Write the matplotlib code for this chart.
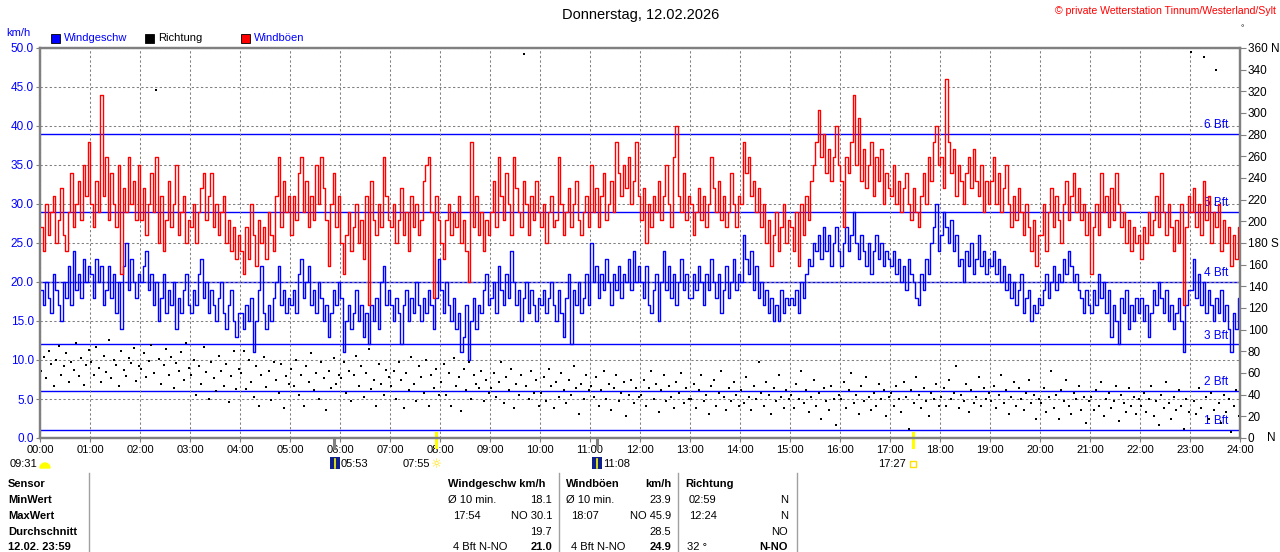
import numpy as np
import matplotlib.pyplot as plt
from matplotlib.patches import Rectangle, Wedge
from matplotlib.lines import Line2D

plt.rcParams['font.family'] = ['Liberation Sans', 'DejaVu Sans']

boeen = [
    27, 24, 30, 26, 29, 31, 25, 28, 32, 26, 24, 29, 34, 27, 30, 33, 28, 35, 31, 38,
    30, 27, 33, 29, 44, 31, 36, 28, 34, 30, 27, 35, 21, 32, 29, 36, 30, 33, 28, 35,
    28, 32, 26, 30, 34, 29, 36, 25, 31, 24, 28, 33, 27, 30, 35, 26, 29, 31, 25, 28,
    27, 30, 25, 29, 32, 34, 28, 31, 34, 27, 30, 26, 29, 31, 25, 28, 24, 27, 23, 26,
    24, 21, 27, 23, 30, 26, 22, 28, 25, 27, 23, 29, 26, 24, 31, 36, 27, 33, 29, 31,
    26, 31, 28, 34, 36, 29, 33, 27, 31, 28, 35, 30, 36, 32, 28, 22, 30, 34, 27, 31,
    25, 21, 26, 29, 24, 27, 30, 25, 28, 23, 31, 17, 33, 28, 26, 30, 27, 36, 31, 28,
    27, 30, 25, 28, 32, 26, 29, 24, 31, 27, 30, 26, 28, 33, 35, 36, 29, 18, 31, 28,
    25, 23, 28, 30, 26, 29, 27, 31, 25, 28, 24, 20, 38, 27, 31, 26, 29, 24, 28, 26,
    29, 33, 27, 36, 31, 28, 34, 30, 26, 36, 32, 29, 27, 33, 30, 26, 31, 28, 33, 29,
    27, 30, 25, 29, 31, 27, 28, 36, 30, 26, 29, 32, 27, 30, 33, 28, 26, 29, 31, 27,
    35, 29, 32, 27, 31, 34, 28, 30, 33, 29, 38, 34, 31, 35, 32, 36, 30, 33, 38, 31,
    28, 32, 25, 30, 27, 31, 29, 33, 28, 31, 35, 30, 27, 36, 40, 31, 29, 34, 28, 31,
    30, 26, 29, 32, 28, 31, 27, 30, 36, 32, 29, 33, 28, 31, 27, 29, 34, 30, 27, 31,
    30, 38, 34, 36, 31, 33, 29, 32, 27, 30, 25, 28, 22, 26, 29, 24, 27, 30, 25, 28,
    27, 24, 29, 22, 30, 26, 31, 28, 33, 35, 38, 42, 36, 39, 34, 37, 33, 36, 40, 35,
    33, 27, 36, 34, 38, 44, 35, 41, 33, 37, 32, 35, 38, 31, 36, 33, 37, 30, 34, 32,
    31, 35, 30, 33, 29, 32, 34, 30, 28, 32, 29, 27, 31, 34, 30, 36, 33, 38, 40, 35,
    36, 32, 46, 38, 34, 37, 31, 35, 33, 30, 34, 36, 32, 37, 33, 31, 35, 29, 33, 30,
    33, 36, 30, 34, 29, 32, 35, 30, 27, 31, 28, 32, 29, 26, 30, 27, 24, 28, 22, 26,
    26, 30, 24, 29, 32, 27, 31, 28, 25, 30, 33, 28, 31, 34, 29, 32, 28, 30, 26, 29,
    21, 27, 30, 26, 34, 29, 31, 27, 32, 28, 34, 30, 27, 29, 25, 28, 24, 27, 25, 26,
    23, 27, 25, 29, 26, 28, 31, 27, 34, 29, 26, 30, 27, 24, 28, 25, 30, 17, 27, 31,
    29, 32, 27, 30, 26, 33, 28, 31, 25, 29, 27, 30, 24, 28, 25, 27, 22, 26, 23, 27,
]

geschw = [
    19, 17, 20, 18, 16, 21, 19, 17, 15, 20, 18, 22, 17, 24, 19, 21, 18, 23, 20, 22,
    21, 18, 23, 20, 22, 17, 19, 22, 18, 21, 16, 20, 14, 22, 25, 19, 23, 20, 18, 21,
    20, 22, 24, 19, 21, 17, 20, 15, 18, 21, 16, 19, 17, 20, 14, 18, 16, 19, 21, 17,
    16, 19, 17, 21, 23, 18, 20, 16, 19, 17, 15, 18, 20, 16, 14, 17, 19, 15, 13, 16,
    16, 14, 17, 15, 18, 11, 15, 19, 22, 16, 14, 17, 15, 18, 20, 22, 17, 19, 16, 18,
    17, 19, 16, 21, 23, 18, 20, 22, 17, 19, 16, 20, 18, 15, 17, 13, 16, 19, 17, 20,
    18, 11, 15, 17, 14, 16, 19, 15, 17, 13, 16, 12, 17, 15, 18, 14, 20, 22, 17, 19,
    17, 15, 18, 16, 12, 17, 19, 15, 18, 16, 20, 17, 15, 18, 16, 19, 17, 14, 18, 23,
    19, 16, 20, 17, 15, 18, 14, 16, 11, 13, 17, 10, 15, 18, 14, 17, 16, 19, 21, 17,
    18, 20, 16, 22, 19, 17, 21, 18, 24, 20, 17, 19, 15, 18, 20, 16, 19, 17, 15, 18,
    17, 19, 16, 18, 20, 17, 15, 19, 16, 13, 18, 21, 12, 19, 17, 20, 16, 18, 21, 17,
    25, 20, 22, 18, 21, 19, 23, 20, 17, 21, 19, 22, 18, 21, 20, 23, 19, 24, 20, 22,
    20, 18, 22, 17, 16, 19, 21, 15, 20, 24, 19, 22, 18, 21, 17, 20, 23, 19, 21, 18,
    18, 21, 19, 22, 20, 17, 21, 19, 23, 20, 18, 21, 16, 19, 22, 18, 20, 23, 19, 21,
    20, 26, 23, 21, 24, 19, 22, 18, 20, 17, 19, 16, 18, 15, 17, 15, 19, 16, 18, 17,
    18, 17, 19, 16, 20, 18, 21, 23, 22, 25, 24, 26, 23, 27, 24, 26, 22, 25, 27, 24,
    22, 25, 27, 24, 26, 29, 25, 23, 26, 24, 22, 25, 21, 24, 26, 23, 25, 22, 24, 23,
    22, 24, 21, 23, 20, 22, 19, 23, 21, 20, 18, 17, 21, 19, 23, 21, 25, 27, 30, 24,
    26, 29, 27, 25, 28, 24, 26, 22, 23, 20, 24, 22, 25, 21, 23, 26, 22, 24, 21, 23,
    22, 24, 21, 23, 20, 22, 19, 21, 18, 20, 17, 19, 21, 16, 18, 19, 15, 17, 16, 18,
    17, 19, 21, 18, 20, 22, 19, 21, 20, 23, 21, 24, 22, 20, 21, 19, 18, 16, 19, 17,
    16, 19, 17, 21, 18, 20, 16, 19, 13, 17, 15, 12, 18, 16, 19, 14, 17, 15, 18, 16,
    18, 15, 17, 13, 16, 19, 17, 20, 18, 16, 19, 15, 17, 14, 16, 18, 15, 11, 17, 19,
    19, 23, 18, 21, 17, 20, 16, 19, 17, 15, 18, 16, 19, 15, 17, 14, 11, 16, 14, 18,
]

richtung = [
    62, 75, 55, 80, 68, 48, 72, 85, 58, 66, 78, 52, 70, 63, 88, 57, 74, 49, 67, 81,
    70, 58, 84, 65, 52, 76, 61, 90, 55, 72, 67, 48, 80, 63, 57, 74, 69, 83, 53, 66,
    64, 78, 56, 71, 86, 60, 321, 73, 50, 67, 82, 58, 75, 46, 69, 62, 79, 54, 88, 65,
    58, 72, 40, 66, 50, 84, 61, 36, 70, 55, 43, 76, 62, 48, 68, 33, 57, 80, 45, 64,
    60, 80, 45, 72, 52, 38, 66, 30, 58, 75, 47, 62, 35, 70, 54, 42, 68, 28, 57, 50,
    64, 48, 72, 40, 58, 30, 66, 52, 78, 44, 60, 36, 70, 55, 26, 62, 46, 74, 50, 58,
    55, 70, 42, 62, 34, 58, 76, 48, 66, 38, 60, 82, 45, 54, 30, 68, 50, 40, 63, 56,
    48, 62, 36, 70, 54, 28, 60, 44, 75, 50, 34, 66, 56, 42, 72, 30, 58, 46, 64, 40,
    52, 68, 40, 60, 30, 74, 48, 56, 25, 64, 44, 70, 36, 58, 50, 46, 62, 34, 54, 42,
    46, 60, 38, 52, 70, 32, 56, 44, 64, 28, 50, 40, 58, 354, 48, 36, 62, 42, 54, 30,
    42, 56, 34, 64, 48, 28, 52, 38, 60, 44, 32, 54, 40, 66, 46, 22, 50, 36, 58, 44,
    48, 38, 56, 30, 44, 62, 36, 50, 26, 46, 58, 34, 42, 52, 20, 40, 54, 32, 46, 38,
    40, 54, 30, 46, 62, 36, 50, 24, 44, 58, 34, 48, 38, 28, 52, 42, 60, 32, 46, 36,
    36, 50, 28, 44, 58, 34, 40, 22, 48, 54, 30, 42, 62, 38, 26, 46, 34, 52, 40, 30,
    44, 32, 56, 38, 26, 48, 36, 70, 42, 30, 52, 40, 22, 46, 34, 58, 38, 28, 44, 36,
    40, 28, 50, 36, 62, 32, 44, 24, 38, 54, 30, 42, 18, 46, 34, 26, 48, 36, 12, 40,
    36, 52, 28, 44, 60, 32, 40, 22, 48, 34, 56, 38, 26, 42, 30, 50, 36, 44, 20, 38,
    42, 30, 48, 36, 24, 52, 38, 8, 44, 32, 56, 40, 28, 46, 34, 20, 42, 36, 50, 30,
    38, 46, 30, 54, 36, 42, 66, 28, 40, 34, 50, 24, 44, 32, 38, 56, 30, 46, 36, 42,
    34, 48, 28, 40, 58, 32, 44, 22, 38, 52, 30, 46, 36, 26, 42, 54, 32, 40, 18, 36,
    32, 46, 24, 38, 62, 28, 40, 18, 44, 34, 54, 30, 22, 42, 36, 48, 26, 38, 14, 34,
    38, 26, 44, 30, 52, 20, 36, 42, 28, 34, 48, 16, 40, 32, 24, 46, 30, 38, 22, 36,
    30, 42, 24, 36, 48, 20, 34, 12, 40, 28, 52, 32, 18, 38, 26, 44, 30, 8, 36, 24,
    356, 34, 22, 46, 28, 352, 38, 18, 42, 26, 340, 32, 14, 40, 24, 36, 6, 30, 44, 20,
]

bft_grenzen = [1, 6, 12, 20, 29, 39]
bft_namen = ["1 Bft", "2 Bft", "3 Bft", "4 Bft", "5 Bft", "6 Bft"]
stunden = ["%02d:00" % h for h in range(25)]

# Sonne / Mond (Minuten des Tages)
mond_auf = [353, 668]
sonne = [475, 1047]

W, H = 1280, 552
BLAU = "#0000ff"
GRAU = "#808080"


def fx(x):
    return x / W


def fy(y):
    return 1 - y / H


def ftext(x, y, s, **kw):
    kw.setdefault("va", "center")
    kw.setdefault("fontsize", 8)
    fig.text(fx(x), fy(y), s, **kw)


fig = plt.figure(figsize=(12.8, 5.52), dpi=100)
ax = fig.add_axes([fx(40), fy(438), 1200 / W, 390 / H])
ax2 = ax.twinx()

t = np.arange(len(geschw)) * 3 + 1.5

ax.plot(t, geschw, drawstyle="steps-mid", color=BLAU, lw=1.0, zorder=2.5)
ax.plot(t, boeen, drawstyle="steps-mid", color="#ff0000", lw=1.0, zorder=2.6)
ax2.scatter(t, richtung, marker="s", s=4, c="black", linewidths=0)

for g, n in zip(bft_grenzen, bft_namen):
    ax.axhline(g, color=BLAU, lw=1.0, zorder=1.5)
    ax.text(0.99, g + 0.35, n, transform=ax.get_yaxis_transform(), ha="right",
            va="bottom", color=BLAU, fontsize=8.5, zorder=1.6)

ax.set_xlim(0, 1440)
ax.set_ylim(0, 50)
ax.set_xticks(np.arange(0, 1441, 60))
ax.set_xticklabels(stunden)
ax.set_yticks(np.arange(0, 50.1, 5))
ax.set_yticklabels(["%.1f" % v for v in np.arange(0, 50.1, 5)])
ax.grid(True, color=GRAU, ls=(0, (2.2, 2.2)), lw=0.75)
ax.tick_params(axis="y", colors=GRAU, labelcolor=BLAU, labelsize=8.5, length=3, pad=1.5)
ax.tick_params(axis="x", colors=GRAU, labelcolor="black", labelsize=8, length=3, pad=2)

ax2.set_ylim(0, 360)
ax2.set_yticks(np.arange(0, 361, 20))
lab = [str(v) for v in range(0, 361, 20)]
lab[-1] = "360 N"
lab[9] = "180 S"
ax2.set_yticklabels(lab)
ax2.tick_params(axis="y", colors=GRAU, labelcolor="black", labelsize=8.5, length=4, pad=1.5)
ax.text(1.0225, 0, "N", transform=ax.transAxes, va="center", ha="left", fontsize=8.5)

for a in (ax, ax2):
    for s in a.spines.values():
        s.set_color(GRAU)
        s.set_linewidth(1.6)

# Mond- und Sonnenmarken an der Zeitachse
for m in mond_auf:
    ax.plot([m, m], [0, -0.026], transform=ax.get_xaxis_transform(), clip_on=False,
            color=GRAU, lw=2.2)
for m in sonne:
    ax.plot([m, m], [0.013, -0.024], transform=ax.get_xaxis_transform(), clip_on=False,
            color="#ffff00", lw=2.2)

# Kopfzeile
ftext(641, 15, "Donnerstag, 12.02.2026", ha="center", fontsize=10.5)
ftext(1276, 11, "\u00a9 private Wetterstation Tinnum/Westerland/Sylt", ha="right",
      color="#ff0000", fontsize=7.6)
ftext(1242, 29, "°", ha="center", fontsize=6)
ftext(6, 33, "km/h", color=BLAU, fontsize=8)

for x, farbe, name, tf in [(51, BLAU, "Windgeschw", BLAU), (145, "black", "Richtung", "black"),
                           (241, "#ff0000", "Windböen", BLAU)]:
    fig.add_artist(Rectangle((fx(x), fy(43)), 9 / W, 9 / H, transform=fig.transFigure,
                             facecolor=farbe, edgecolor="black", lw=0.6))
    ftext(x + 13, 38, name, color=tf, fontsize=8)

# Auf-/Untergangszeiten
ftext(10, 464, "09:31")
fig.add_artist(Wedge((45, H - 468), 5, 0, 180, transform=None, color="#ffff00"))
fig.add_artist(Rectangle((330, H - 469), 10, 12, transform=None, facecolor="#10208a"))
fig.add_artist(Line2D([335, 335], [H - 468, H - 459], transform=None, color="#ffff00", lw=1.2))
ftext(341, 464, "05:53")
ftext(430, 464, "07:55", ha="right")
ftext(437, 465, "\u263c", ha="center", color="#ffe000", fontsize=9, family="DejaVu Sans")
fig.add_artist(Rectangle((592, H - 469), 10, 12, transform=None, facecolor="#10208a"))
fig.add_artist(Line2D([597, 597], [H - 468, H - 459], transform=None, color="#ffff00", lw=1.2))
ftext(603, 464, "11:08")
ftext(906, 464, "17:27", ha="right")
fig.add_artist(Rectangle((910, H - 467), 6, 6, transform=None, facecolor="none",
                         edgecolor="#ffe000", lw=1))

# Tabelle
for x in (89, 559, 678, 797):
    fig.add_artist(Line2D([fx(x), fx(x)], [fy(473), fy(552)], transform=fig.transFigure,
                          color="#a0a0a0", lw=1))

zeilen_y = [484, 500, 516, 532, 547]
zeilen = ["Sensor", "MinWert", "MaxWert", "Durchschnitt", "12.02. 23:59"]
for y, z in zip(zeilen_y, zeilen):
    ftext(8, y, z, weight="bold")

ftext(448, 484, "Windgeschw km/h", weight="bold")
ftext(448, 500, "Ø 10 min.")
ftext(552, 500, "18.1", ha="right")
ftext(453, 516, "17:54")
ftext(552, 516, "NO 30.1", ha="right")
ftext(552, 532, "19.7", ha="right")
ftext(453, 547, "4 Bft N-NO")
ftext(552, 547, "21.0", ha="right", weight="bold")

ftext(566, 484, "Windböen", weight="bold")
ftext(671, 484, "km/h", ha="right", weight="bold")
ftext(566, 500, "Ø 10 min.")
ftext(671, 500, "23.9", ha="right")
ftext(571, 516, "18:07")
ftext(671, 516, "NO 45.9", ha="right")
ftext(671, 532, "28.5", ha="right")
ftext(571, 547, "4 Bft N-NO")
ftext(671, 547, "24.9", ha="right", weight="bold")

ftext(685, 484, "Richtung", weight="bold")
ftext(689, 500, "02:59")
ftext(788, 500, "N", ha="right")
ftext(689, 516, "12:24")
ftext(788, 516, "N", ha="right")
ftext(788, 532, "NO", ha="right")
ftext(687, 547, "32 °")
ftext(788, 547, "N-NO", ha="right", weight="bold")

fig.savefig("out.png", dpi=100)
